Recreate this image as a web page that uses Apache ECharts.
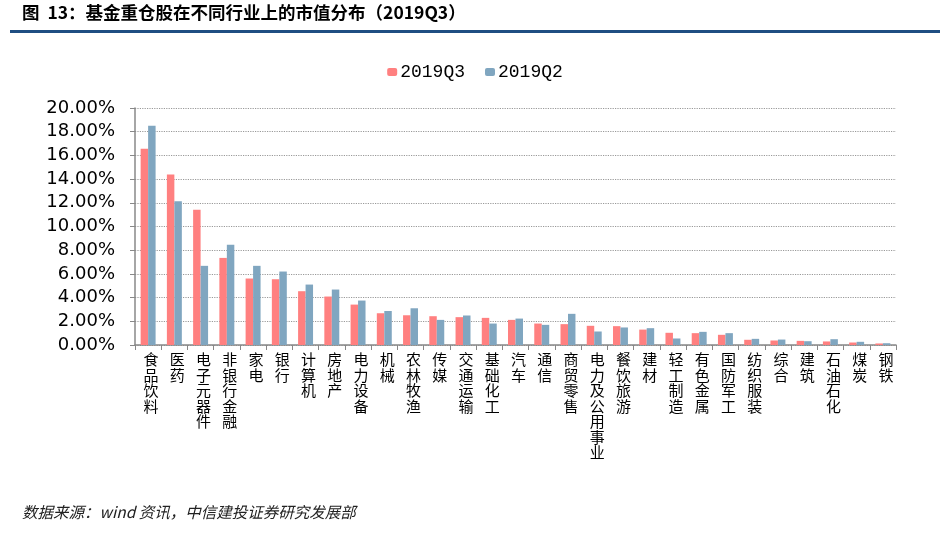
<!DOCTYPE html>
<html>
<head>
<meta charset="utf-8">
<script src="https://cdn.jsdelivr.net/npm/echarts@6/dist/echarts.min.js"></script>
<style>
html,body{margin:0;padding:0;background:#fff;}
#c{width:950px;height:533px;}
</style>
</head>
<body>
<div id="c"></div>
<script>
const categories = ['食品饮料','医药','电子元器件','非银行金融','家电','银行','计算机','房地产','电力设备','机械','农林牧渔','传媒','交通运输','基础化工','汽车','通信','商贸零售','电力及公用事业','餐饮旅游','建材','轻工制造','有色金属','国防军工','纺织服装','综合','建筑','石油石化','煤炭','钢铁'];
const q3 = [16.57,14.38,11.42,7.35,5.61,5.55,4.54,4.09,3.41,2.68,2.51,2.43,2.35,2.29,2.12,1.81,1.76,1.62,1.59,1.30,1.03,1.00,0.86,0.44,0.38,0.35,0.30,0.21,0.13];
const q2 = [18.51,12.13,6.68,8.47,6.68,6.20,5.10,4.68,3.75,2.87,3.10,2.12,2.49,1.81,2.23,1.70,2.63,1.14,1.48,1.42,0.55,1.11,1.00,0.52,0.46,0.32,0.49,0.27,0.15];
const seriesNames = ['2019Q3','2019Q2'];
const yTicks = {min:0, max:20, interval:2};
const titleText = '图  13：基金重仓股在不同行业上的市值分布（2019Q3）';
const sourceText = '数据来源：wind 资讯，中信建投证券研究发展部';

const chart = echarts.init(document.getElementById('c'));
chart.setOption({
  animation:false,
  backgroundColor:'#fff',
  graphic:[
    {type:'text', left:22, top:4, style:{text:titleText, font:'bold 17.5px "Noto Sans CJK SC"', fill:'#000'}},
    {type:'rect', shape:{x:10,y:30,width:930,height:3}, style:{fill:'#1F4E82'}},
    {type:'text', left:22, top:504, style:{text:sourceText, font:'italic 15.5px "Noto Sans CJK SC"', fill:'#222'}}
  ],
  legend:{
    data:seriesNames, left:'center', top:58, itemWidth:10, itemHeight:8, itemGap:20,
    textStyle:{fontFamily:'"Liberation Mono"', fontSize:18, color:'#000', padding:[0,0,0,-2]}
  },
  grid:{left:135, right:54, top:108, bottom:188, containLabel:false},
  xAxis:{
    type:'category', data:categories,
    axisLine:{lineStyle:{color:'#888', width:1.5}},
    axisTick:{show:true, length:5, lineStyle:{color:'#888'}},
    axisLabel:{interval:0, margin:7, fontFamily:'"Noto Sans CJK SC"', fontSize:15, lineHeight:15.5, color:'#000',
      formatter:v=>v.split('').join('\n'), verticalAlign:'top', padding:[0,0,0,6]}
  },
  yAxis:{
    type:'value', min:yTicks.min, max:yTicks.max, interval:yTicks.interval,
    axisLine:{show:true, lineStyle:{color:'#888', width:1.5}},
    axisTick:{show:true, length:5, lineStyle:{color:'#888'}},
    splitLine:{lineStyle:{color:'#999', type:'dotted', width:1.2}},
    axisLabel:{margin:20, fontFamily:'"DejaVu Sans"', fontSize:18, color:'#000', formatter:v=>v.toFixed(2)+'%'}
  },
  series:[
    {name:seriesNames[0], type:'bar', data:q3, barGap:'0%', barCategoryGap:'43%', itemStyle:{color:'#FF8080'}},
    {name:seriesNames[1], type:'bar', data:q2, barGap:'0%', barCategoryGap:'43%', itemStyle:{color:'#80A6C0'}}
  ]
});
</script>
</body>
</html>
